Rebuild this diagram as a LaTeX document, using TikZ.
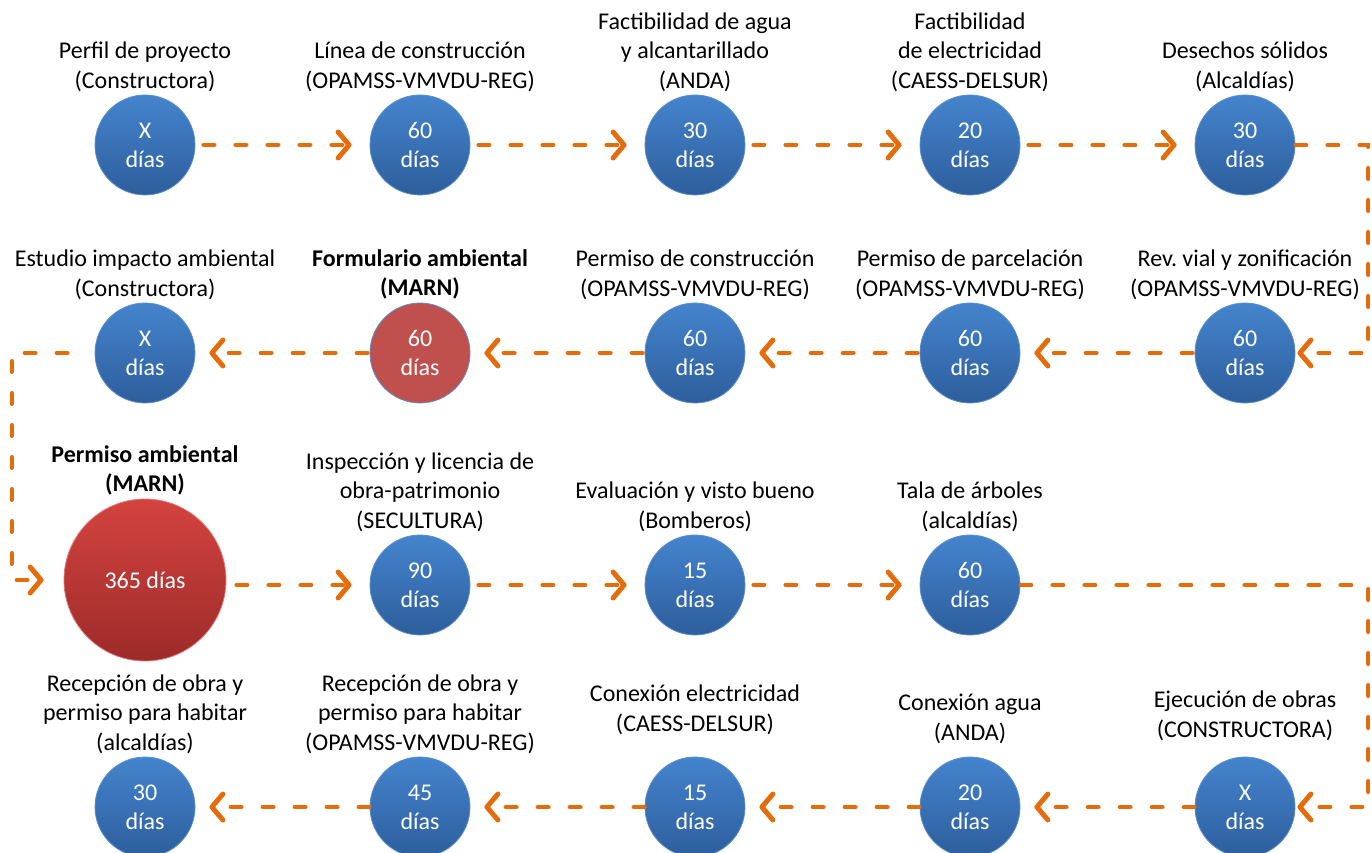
\documentclass[tikz,border=0pt]{standalone}
\usepackage{fontspec}
\setmainfont{Carlito}
\usepackage{xcolor}
\usetikzlibrary{positioning,arrows.meta}
\definecolor{azulA}{HTML}{4484CE}
\definecolor{azulB}{HTML}{2D5E9C}
\definecolor{azulBorde}{HTML}{5B8FCB}
\definecolor{rojoA}{HTML}{D4433F}
\definecolor{rojoB}{HTML}{9C2B29}
\definecolor{rojoPlano}{HTML}{C0504D}
\definecolor{naranja}{HTML}{E46C0A}
\tikzset{
  forma/.style={circle, minimum size=100pt, inner sep=0pt, align=center, text=white,
    font=\fontsize{24}{29}\selectfont, draw=azulBorde, line width=0.8pt},
  etapa/.style={forma, top color=azulA, bottom color=azulB},
  marn/.style={forma, fill=rojoPlano, draw=azulBorde},
  rotulo/.style={align=center, inner sep=0pt, font=\fontsize{24}{29.5}\selectfont},
  flujo/.style={draw=naranja, line width=4pt, line cap=round, dash pattern=on 11pt off 21pt,
    -{Straight Barb[length=11pt,width=26pt,line width=5pt,round]}}
}
\begin{document}
\begin{tikzpicture}[x=1pt,y=-1pt]
        \useasboundingbox (0,0) rectangle (1372,853);
        % fila 1
        \node[etapa] (c11) at (145,145) {X\\días};
        \node[etapa] (c12) at (420,145) {60\\días};
        \node[etapa] (c13) at (695,145) {30\\días};
        \node[etapa] (c14) at (970,145) {20\\días};
        \node[etapa] (c15) at (1245,145) {30\\días};
        \node[rotulo, above=3pt of c11] (l11) {Perfil de proyecto\\(Constructora)};
        \node[rotulo, above=3pt of c12] (l12) {Línea de construcción\\(OPAMSS-VMVDU-REG)};
        \node[rotulo, above=3pt of c13] (l13) {Factibilidad de agua\\y alcantarillado\\(ANDA)};
        \node[rotulo, above=3pt of c14] (l14) {Factibilidad\\de electricidad\\(CAESS-DELSUR)};
        \node[rotulo, above=3pt of c15] (l15) {Desechos sólidos\\(Alcaldías)};
        % fila 2
        \node[etapa] (c21) at (145,353) {X\\días};
        \node[marn] (c22) at (420,353) {60\\días};
        \node[etapa] (c23) at (695,353) {60\\días};
        \node[etapa] (c24) at (970,353) {60\\días};
        \node[etapa] (c25) at (1245,353) {60\\días};
        \node[rotulo, above=3pt of c21] (l21) {Estudio impacto ambiental\\(Constructora)};
        \node[rotulo, above=3pt of c22, font=\fontsize{24}{29.5}\selectfont\bfseries] (l22) {Formulario ambiental\\(MARN)};
        \node[rotulo, above=3pt of c23] (l23) {Permiso de construcción\\(OPAMSS-VMVDU-REG)};
        \node[rotulo, above=3pt of c24] (l24) {Permiso de parcelación\\(OPAMSS-VMVDU-REG)};
        \node[rotulo, above=3pt of c25] (l25) {Rev.\ vial y zonificación\\(OPAMSS-VMVDU-REG)};
        % fila 3
        \node[etapa, minimum size=162pt, top color=rojoA, bottom color=rojoB, draw=rojoA!70!white] (c31) at (145,580) {365 días};
        \node[etapa] (c32) at (420,585) {90\\días};
        \node[etapa] (c33) at (695,585) {15\\días};
        \node[etapa] (c34) at (970,585) {60\\días};
        \node[rotulo, above=3pt of c31, font=\fontsize{24}{29.5}\selectfont\bfseries] (l31) {Permiso ambiental\\(MARN)};
        \node[rotulo, above=3pt of c32] (l32) {Inspección y licencia de\\obra-patrimonio\\(SECULTURA)};
        \node[rotulo, above=3pt of c33] (l33) {Evaluación y visto bueno\\(Bomberos)};
        \node[rotulo, above=3pt of c34] (l34) {Tala de árboles\\(alcaldías)};
        % fila 4
        \node[etapa] (c41) at (145,807) {30\\días};
        \node[etapa] (c42) at (420,807) {45\\días};
        \node[etapa] (c43) at (695,807) {15\\días};
        \node[etapa] (c44) at (970,807) {20\\días};
        \node[etapa] (c45) at (1245,807) {X\\días};
        \node[rotulo, above=3pt of c41] (l41) {Recepción de obra y\\permiso para habitar\\(alcaldías)};
        \node[rotulo, above=3pt of c42] (l42) {Recepción de obra y\\permiso para habitar\\(OPAMSS-VMVDU-REG)};
        \node[rotulo, above=22pt of c43] (l43) {Conexión electricidad\\(CAESS-DELSUR)};
        \node[rotulo, above=13pt of c44] (l44) {Conexión agua\\(ANDA)};
        \node[rotulo, above=16pt of c45] (l45) {Ejecución de obras\\(CONSTRUCTORA)};
        % conexiones
        \foreach \a/\b in {c11/c12, c12/c13, c13/c14, c14/c15}
          \draw[flujo, shorten <=8pt, shorten >=18pt] (\a) -- (\b);
        \draw[flujo, shorten >=2pt] (c15.east) -- ++(73,0) |- (c25.east);
        \foreach \a/\b in {c25/c24, c24/c23, c23/c22, c22/c21}
          \draw[flujo, shorten <=2pt, shorten >=14pt] (\a) -- (\b);
        \draw[flujo, shorten <=27pt, shorten >=20pt] (c21.west) -- ++(-83,0) |- (c31.west);
        \draw[flujo, shorten <=10pt, shorten >=18pt] (c31.east |- c32) -- (c32);
        \foreach \a/\b in {c32/c33, c33/c34}
          \draw[flujo, shorten <=8pt, shorten >=18pt] (\a) -- (\b);
        \draw[flujo, shorten >=2pt] (c34.east) -- ++(348,0) |- (c45.east);
        \foreach \a/\b in {c45/c44, c44/c43, c43/c42, c42/c41}
          \draw[flujo, shorten >=14pt] (\a) -- (\b);
\end{tikzpicture}
\end{document}
